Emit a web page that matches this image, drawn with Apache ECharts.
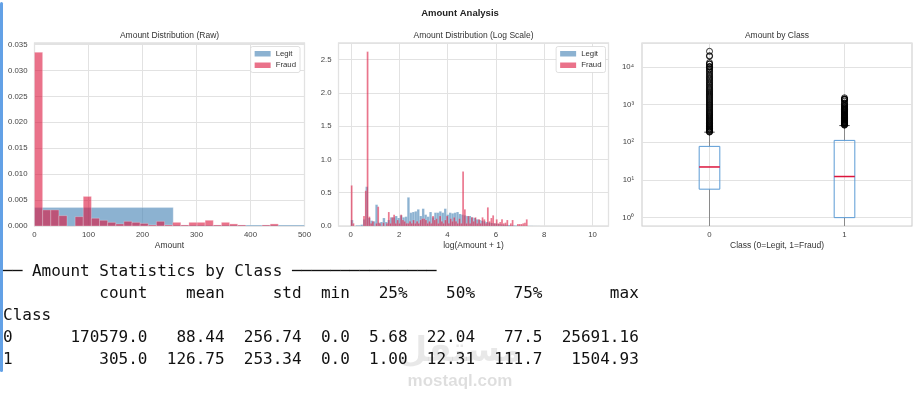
<!DOCTYPE html>
<html><head><meta charset="utf-8">
<script src="https://cdn.jsdelivr.net/npm/echarts@6/dist/echarts.min.js"></script>
<style>html,body{margin:0;padding:0;background:#fff}#c{width:924px;height:398px}</style>
</head><body><div id="c"></div>
<script>
// ---------- data ----------
const seriesNames = ['Legit', 'Fraud'];

// Raw amount histograms (density), bins start at 0
const legitRawBinWidth = 256.91;
const fraudRawBinWidth = 15.05;
const legitRawDensity = [0.00355, 0.00018];
const fraudRawDensity = [0.0335, 0.0031, 0.0031, 0.0020, 0, 0.0018, 0.0057, 0.0015, 0.0011, 0.0007,
  0.0004, 0.0009, 0.0007, 0.0005, 0.0002, 0.0009, 0.0002, 0.0007, 0.0002, 0.0007,
  0.0007, 0.0011, 0.0002, 0.0007, 0.0004, 0.0002, 0, 0, 0.0002, 0.0004, 0, 0, 0, 0];

// log(Amount + 1) histograms (density), bins start at 0
const legitLogBinWidth = 0.10154;
const fraudLogBinWidth = 0.07317;
const legitLogDensity = [
  0.09, 0, 0.01, 0.01, 0.02, 0.10, 0.59, 0.12, 0.08, 0.07,
  0.32, 0.05, 0.06, 0.12, 0.06, 0.09, 0.13, 0.13, 0.15, 0.12,
  0.16, 0.13, 0.14, 0.43, 0.20, 0.21, 0.22, 0.25, 0.15, 0.26,
  0.17, 0.14, 0.21, 0.13, 0.20, 0.20, 0.22, 0.20, 0.26, 0.17,
  0.20, 0.19, 0.20, 0.21, 0.18, 0.17, 0.16, 0.15, 0.15, 0.13,
  0.12, 0.10, 0.09, 0.08, 0.07, 0.06, 0.05, 0.045, 0.04, 0.035,
  0.03, 0.025, 0.02, 0.018, 0.015, 0.012, 0.01, 0.008, 0.007, 0.005,
  0.004, 0.003, 0.002, 0.002, 0.001, 0.001, 0.001, 0, 0, 0];
const fraudLogDensity = [
  0.61, 0.04, 0, 0, 0, 0, 0, 0.15, 0.53, 2.62,
  0.14, 0.04, 0.07, 0, 0.04, 0.29, 0.04, 0, 0.05, 0,
  0.04, 0.21, 0.04, 0.13, 0.17, 0.04, 0.09, 0.04, 0.17, 0.09,
  0.07, 0.04, 0.04, 0.07, 0.04, 0.09, 0.04, 0.07, 0.04, 0.09,
  0.11, 0.11, 0.09, 0.04, 0.07, 0.04, 0.15, 0.09, 0.11, 0.04,
  0.15, 0.07, 0.04, 0.09, 0.15, 0.04, 0.11, 0.07, 0.13, 0.07,
  0.04, 0.11, 0.04, 0.82, 0.25, 0.04, 0.15, 0.04, 0.13, 0.07,
  0.13, 0.04, 0.10, 0.04, 0.13, 0.10, 0.04, 0.28, 0.07, 0.12,
  0.16, 0.04, 0.10, 0.04, 0.06, 0.10, 0.04, 0.05, 0.09, 0,
  0.04, 0.09, 0, 0, 0.03, 0.03, 0.03, 0.04, 0.05, 0.10];

// Box plot: [lower whisker, Q1, median, Q3, upper whisker]
const boxClasses = ['0', '1'];
const boxLegit = [0.0, 5.68, 22.04, 77.5, 184.5];
const boxFraud = [0.0, 1.00, 12.31, 111.7, 276];
const legitOutliers = [185.5, 189, 195, 203, 209, 218, 226, 235, 247, 256, 268, 280, 295, 307, 320, 339, 355, 373,
  390, 410, 433, 455, 480, 502, 530, 560, 590, 625, 660, 700, 745, 790, 840, 890, 950, 1000, 1065, 1130, 1200,
  1280, 1360, 1450, 1550, 1650, 1760, 1880, 2010, 2150, 2300, 2460, 2630, 2820, 3000, 3250, 3500, 3780, 4050,
  4400, 4750, 5100, 5500, 5900, 6400, 7000, 7580, 8240, 8790, 9700, 10000, 10199, 11790, 11898, 12910,
  18910, 19656, 25691.16];
const fraudOutliers = [282, 290, 296, 304, 311, 319, 324, 333, 340, 349, 357, 364, 375, 381, 390, 399, 410, 420,
  433, 444, 454, 465, 480, 491, 512, 529, 540, 560, 592, 611, 634, 660, 680, 712, 720, 723, 750, 776, 800, 829,
  860, 900, 925, 996, 1050, 1096, 1218, 1335, 1354, 1389, 1402, 1504.93];

// Statistics table
const statColumns = ['count', 'mean', 'std', 'min', '25%', '50%', '75%', 'max'];
const statsClass0 = ['170579.0', '88.44', '256.74', '0.0', '5.68', '22.04', '77.5', '25691.16'];
const statsClass1 = ['305.0', '126.75', '253.34', '0.0', '1.00', '12.31', '111.7', '1504.93'];

// ---------- styling ----------
const LEGIT = 'rgba(70,130,180,0.62)';
const FRAUD = 'rgba(220,20,60,0.6)';
const GRID_LINE = '#e2e2e2';
const FRAME = '#d2d2d2';
const TICK = '#444';
const FONT = '"Liberation Sans", Arial, sans-serif';

function histSeries(name, density, binWidth, idx, color, edge) {
  return {
    type: 'custom', name: name, xAxisIndex: idx, yAxisIndex: idx, z: name === 'Fraud' ? 3 : 2,
    itemStyle: { color: color },
    data: density.map((d, i) => [i * binWidth, (i + 1) * binWidth, d]),
    encode: { x: [0, 1], y: 2 },
    silent: true,
    renderItem: function (params, api) {
      const h = api.value(2);
      if (!h) return null;
      const cs = params.coordSys;
      const a = api.coord([api.value(0), h]);
      const b = api.coord([api.value(1), 0]);
      const x0 = Math.max(a[0], cs.x), x1 = Math.min(b[0], cs.x + cs.width);
      if (x1 <= x0) return null;
      return {
        type: 'rect',
        shape: { x: x0, y: a[1], width: x1 - x0, height: b[1] - a[1] },
        style: { fill: color, stroke: 'rgba(255,255,255,0.5)', lineWidth: edge }
      };
    }
  };
}

function isMultiple(v, step) { return Math.abs(v / step - Math.round(v / step)) < 1e-6; }
const SUP = ['\u2070', '\u00b9', '\u00b2', '\u00b3', '\u2074', '\u2075'];

function valueAxis(extra) {
  return Object.assign({
    type: 'value',
    axisLine: { show: false }, axisTick: { show: false },
    splitLine: { show: true, lineStyle: { color: GRID_LINE, width: 1 } },
    axisLabel: { fontSize: 7.8, color: TICK, fontFamily: FONT },
    nameTextStyle: { fontSize: 8.5, color: '#333', fontFamily: FONT }
  }, extra);
}

// Table text (pandas-like fixed width)
const colW = statColumns.map((c, i) => Math.max(c.length, statsClass0[i].length, statsClass1[i].length));
function tableRow(label, cells) {
  return label.padEnd(5) + cells.map((c, i) => '  ' + c.padStart(colW[i])).join('');
}
const tableLines = [
  '\u2500\u2500 Amount Statistics by Class ' + '\u2500'.repeat(15),
  tableRow('', statColumns),
  'Class',
  tableRow('0', statsClass0),
  tableRow('1', statsClass1)
];
const tableY = [272, 294, 316, 338, 360];

const chart = echarts.init(document.getElementById('c'), null, { renderer: 'canvas' });

const legendBase = {
  data: seriesNames, orient: 'vertical', top: 46.5, icon: 'rect',
  itemWidth: 16, itemHeight: 5.5, itemGap: 3, padding: [3, 4, 3, 4],
  backgroundColor: '#fff', borderColor: '#d8d8d8', borderWidth: 0.8, borderRadius: 2,
  textStyle: { fontSize: 7.8, color: '#333', fontFamily: FONT, lineHeight: 8.5 },
  selectedMode: false
};

const option = {
  animation: false,
  backgroundColor: '#fff',
  textStyle: { fontFamily: FONT },
  grid: [
    { left: 34.5, top: 43, width: 270, height: 183, show: true, borderColor: FRAME, borderWidth: 1.2, containLabel: false },
    { left: 338.5, top: 43, width: 270, height: 183, show: true, borderColor: FRAME, borderWidth: 1.2, containLabel: false },
    { left: 642, top: 43, width: 270, height: 183, show: true, borderColor: FRAME, borderWidth: 1.2, containLabel: false }
  ],
  legend: [
    Object.assign({}, legendBase, { right: 624 }),
    Object.assign({}, legendBase, { right: 318.5 })
  ],
  xAxis: [
    valueAxis({ gridIndex: 0, min: 0, max: 500, interval: 100, name: 'Amount', nameLocation: 'middle', nameGap: 15,
      axisLabel: { fontSize: 7.8, color: TICK, margin: 5 } }),
    valueAxis({ gridIndex: 1, min: -0.508, max: 10.662, splitNumber: 5, name: 'log(Amount + 1)', nameLocation: 'middle', nameGap: 15,
      axisLabel: { fontSize: 7.8, color: TICK, margin: 5, formatter: v => isMultiple(v, 2) ? String(Math.round(v)) : '' } }),
    { gridIndex: 2, type: 'category', data: boxClasses, boundaryGap: true,
      axisLine: { show: false }, axisTick: { show: false }, splitLine: { show: false },
      axisLabel: { fontSize: 7.8, color: TICK, margin: 5 },
      name: 'Class (0=Legit, 1=Fraud)', nameLocation: 'middle', nameGap: 15,
      nameTextStyle: { fontSize: 8.5, color: '#333' } }
  ],
  yAxis: [
    valueAxis({ gridIndex: 0, min: 0, max: 0.0353, interval: 0.005,
      axisLabel: { fontSize: 7.8, color: TICK, margin: 7, formatter: v => isMultiple(v, 0.005) ? v.toFixed(3) : '' } }),
    valueAxis({ gridIndex: 1, min: 0, max: 2.75, interval: 0.5,
      axisLabel: { fontSize: 7.8, color: TICK, margin: 7, formatter: v => isMultiple(v, 0.5) ? v.toFixed(1) : '' } }),
    { gridIndex: 2, type: 'log', logBase: 10, min: 0.6, max: 42700,
      axisLine: { show: false }, axisTick: { show: false },
      splitLine: { show: true, lineStyle: { color: GRID_LINE, width: 1 } },
      minorTick: { show: false }, minorSplitLine: { show: false },
      axisLabel: { fontSize: 7.8, color: TICK, margin: 8, formatter: function (v) {
        const l = Math.log10(v);
        return isMultiple(l, 1) ? '10' + SUP[Math.round(l)] : '';
      } } }
  ],
  series: [
    histSeries('Legit', legitRawDensity, legitRawBinWidth, 0, LEGIT, 0.5),
    histSeries('Fraud', fraudRawDensity, fraudRawBinWidth, 0, FRAUD, 0.5),
    histSeries('Legit', legitLogDensity, legitLogBinWidth, 1, LEGIT, 0.25),
    histSeries('Fraud', fraudLogDensity, fraudLogBinWidth, 1, FRAUD, 0.25),
    {
      type: 'custom', name: 'Amount', xAxisIndex: 2, yAxisIndex: 2, silent: true, z: 2,
      data: [[0].concat(boxLegit), [1].concat(boxFraud)],
      encode: { x: 0, y: [2, 3, 4] },
      renderItem: function (params, api) {
        const cs = params.coordSys;
        const top = cs.y, bottom = cs.y + cs.height;
        const cat = api.value(0);
        const yOf = v => v > 0 ? Math.min(api.coord([cat, v])[1], bottom) : bottom;
        const cx = api.coord([cat, 1])[0];
        const bw = api.size([1, 1])[0] * 0.153;
        const wl = yOf(api.value(1)), q1 = yOf(api.value(2)), md = yOf(api.value(3)),
              q3 = yOf(api.value(4)), wh = yOf(api.value(5));
        const ln = (x1, y1, x2, y2, stroke, w) => ({ type: 'line', shape: { x1, y1, x2, y2 }, style: { stroke, lineWidth: w } });
        return {
          type: 'group',
          children: [
            ln(cx, top, cx, bottom, GRID_LINE, 1),
            ln(cx, wl, cx, q1, '#8a8a8a', 1),
            ln(cx, q3, cx, wh, '#8a8a8a', 1),
            ln(cx - bw / 4, wh, cx + bw / 4, wh, '#444', 1),
            { type: 'rect', shape: { x: cx - bw / 2, y: q3, width: bw, height: q1 - q3 },
              style: { fill: 'none', stroke: '#5b9bd5', lineWidth: 1 } },
            ln(cx - bw / 2, md, cx + bw / 2, md, '#dc143c', 1.5)
          ]
        };
      }
    },
    {
      type: 'scatter', name: 'Outliers', xAxisIndex: 2, yAxisIndex: 2, silent: true, z: 4,
      symbol: 'circle', symbolSize: 6,
      itemStyle: { color: 'rgba(0,0,0,0)', borderColor: '#000', borderWidth: 1 },
      data: legitOutliers.map(v => [0, v]).concat(fraudOutliers.map(v => [1, v]))
    }
  ],
  graphic: [
    { type: 'rect', shape: { x: 0, y: 2, width: 3, height: 370, r: 1.5 }, style: { fill: '#63a1e6' }, silent: true },
    { type: 'text', x: 460, y: 13, silent: true,
      style: { text: 'Amount Analysis', fontSize: 9.5, fontWeight: 'bold', fill: '#222', fontFamily: FONT, align: 'center', verticalAlign: 'middle' } },
    { type: 'text', x: 169.5, y: 35.5, silent: true,
      style: { text: 'Amount Distribution (Raw)', fontSize: 8.5, fill: '#333', fontFamily: FONT, align: 'center', verticalAlign: 'middle' } },
    { type: 'text', x: 473.5, y: 35.5, silent: true,
      style: { text: 'Amount Distribution (Log Scale)', fontSize: 8.5, fill: '#333', fontFamily: FONT, align: 'center', verticalAlign: 'middle' } },
    { type: 'text', x: 777, y: 35.5, silent: true,
      style: { text: 'Amount by Class', fontSize: 8.5, fill: '#333', fontFamily: FONT, align: 'center', verticalAlign: 'middle' } },
    { type: 'text', x: 460, y: 352, silent: true, z: -1,
      style: { text: '\u0645\u0633\u062a\u0642\u0644', fontSize: 34, fontWeight: 'bold', fill: 'rgba(0,0,0,0.09)', fontFamily: '"DejaVu Sans", sans-serif', align: 'center', verticalAlign: 'middle' } },
    { type: 'text', x: 460, y: 381, silent: true, z: -1,
      style: { text: 'mostaql.com', fontSize: 17, fontWeight: 'bold', fill: 'rgba(0,0,0,0.13)', fontFamily: FONT, align: 'center', verticalAlign: 'middle' } }
  ].concat(tableLines.map((t, i) => ({
    type: 'text', x: 3, y: tableY[i], silent: true,
    style: { text: t, fontSize: 16, fill: '#111', fontFamily: '"DejaVu Sans Mono", "Liberation Mono", monospace', align: 'left', verticalAlign: 'middle' }
  })))
};

chart.setOption(option);
</script>
</body></html>
